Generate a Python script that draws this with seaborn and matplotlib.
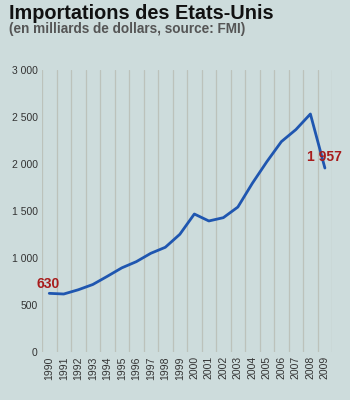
import matplotlib
matplotlib.use("Agg")
import matplotlib.pyplot as plt
import seaborn as sns
import numpy as np
import pandas as pd

years = list(range(1990, 2010))
imports = [624, 617, 662, 718, 805, 895, 961, 1050, 1114, 1252, 1468, 1394, 1429, 1542,
           1795, 2025, 2238, 2366, 2532, 1957]
y_ticks = [0, 500, 1000, 1500, 2000, 2500, 3000]
y_tick_labels = ["0", "500", "1 000", "1 500", "2 000", "2 500", "3 000"]
title = "Importations des Etats-Unis"
subtitle = "(en milliards de dollars, source: FMI)"
first_label = "630"
last_label = "1 957"

sns.set_theme(style="white")
plt.rcParams['font.family'] = ['Liberation Sans', 'DejaVu Sans']

bg = "#cddcdc"
fig = plt.figure(figsize=(3.5, 4.0), dpi=100, facecolor=bg)
ax = fig.add_axes([0.12, 0.12, 0.829, 0.705])
ax.set_facecolor(bg)

df = pd.DataFrame({"year": years, "imports": imports})
sns.lineplot(data=df, x="year", y="imports", ax=ax, color="#1f56b0", linewidth=2.0, zorder=3)

ax.set_xlim(1989.5, 2009.5)
ax.set_ylim(0, 3000)
ax.set_xticks(years)
ax.set_xticklabels([str(y) for y in years], rotation=90, fontsize=7.5, color="#333333")
ax.set_xticks(np.arange(1989.5, 2010, 1.0), minor=True)
ax.set_yticks(y_ticks)
ax.set_yticklabels(y_tick_labels, fontsize=7.5, color="#333333")
ax.grid(False)
ax.grid(True, which="minor", axis="x", color="#bcc2bb", linewidth=0.9)
ax.tick_params(axis="both", which="both", length=0, pad=3)
for s in ax.spines.values():
    s.set_visible(False)
ax.set_xlabel("")
ax.set_ylabel("")

ax.annotate(first_label, (years[0], imports[0]), xytext=(-9, 2), textcoords="offset points",
            color="#a81c1c", fontsize=10, fontweight="bold", ha="left", va="bottom")
ax.annotate(last_label, (years[-1], imports[-1]), xytext=(-13, 3), textcoords="offset points",
            color="#a81c1c", fontsize=10, fontweight="bold", ha="left", va="bottom")

fig.text(0.026, 0.952, title, fontsize=14.3, fontweight="bold", color="#111111", va="baseline")
fig.text(0.026, 0.918, subtitle, fontsize=9.8, fontweight="bold", color="#555555", va="baseline")

fig.savefig("out.png", dpi=100, facecolor=bg)
